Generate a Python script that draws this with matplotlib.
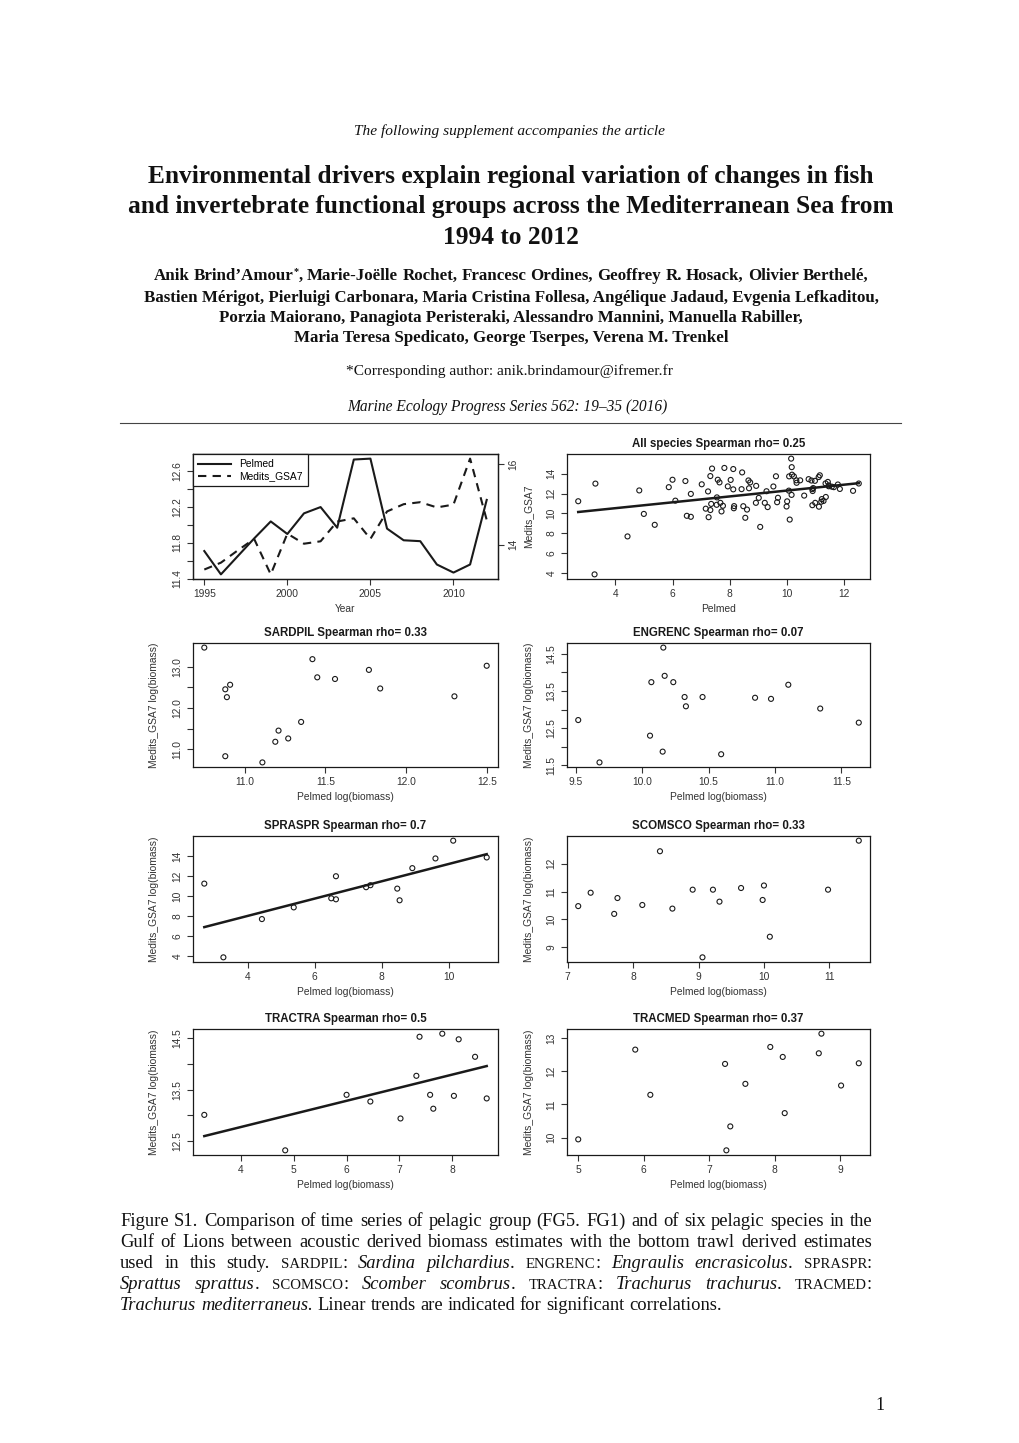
import numpy as np
import matplotlib
matplotlib.use("Agg")
import matplotlib.pyplot as plt
from matplotlib.transforms import IdentityTransform
from matplotlib.lines import Line2D

# ---- time series (FG5 / FG1 pelagic group) ----
years = [1995, 1996, 1997, 1998, 1999, 2000, 2001, 2002, 2003,
         2004, 2005, 2006, 2007, 2008, 2009, 2010, 2011, 2012]
pelmed = [11.71, 11.45, 11.65, 11.85, 12.04, 11.90, 12.13, 12.20, 11.97,
          12.73, 12.74, 11.96, 11.83, 11.82, 11.56, 11.47, 11.56, 12.28]
medits = [13.38, 13.55, 13.85, 14.14, 13.26, 14.27, 14.02, 14.08, 14.57,
          14.65, 14.14, 14.82, 15.00, 15.05, 14.92, 14.99, 16.13, 14.61]

# ---- species: Pelmed (x) vs Medits_GSA7 (y), log(biomass) ----
sard_x = [10.75, 10.88, 10.89, 10.91, 10.88, 11.11, 11.19, 11.21, 11.27,
          11.35, 11.42, 11.45, 11.56, 11.77, 11.84, 12.30, 12.50]
sard_y = [13.46, 12.45, 12.26, 12.56, 10.83, 10.68, 11.18, 11.45, 11.26,
          11.66, 13.18, 12.74, 12.70, 12.92, 12.47, 12.28, 13.02]

eng_x = [9.52, 9.68, 10.06, 10.07, 10.155, 10.16, 10.17, 10.235, 10.32,
         10.33, 10.455, 10.595, 10.85, 10.97, 11.10, 11.34, 11.63]
eng_y = [12.72, 11.58, 12.30, 13.74, 11.87, 14.67, 13.91, 13.74, 13.34,
         13.09, 13.34, 11.80, 13.32, 13.29, 13.67, 13.03, 12.65]

spr_x = [2.71, 3.28, 4.43, 5.38, 6.50, 6.64, 6.64, 7.54, 7.67, 8.54,
         8.47, 8.92, 9.61, 10.14, 11.14]
spr_y = [11.23, 3.85, 7.68, 8.85, 9.76, 9.66, 11.97, 10.87, 11.07, 9.56,
         10.73, 12.78, 13.75, 15.53, 13.85]

sco_x = [7.16, 7.35, 7.71, 7.76, 8.14, 8.41, 8.60, 8.91, 9.06, 9.22,
         9.32, 9.65, 9.98, 10.00, 10.09, 10.98, 11.45]
sco_y = [10.48, 10.96, 10.20, 10.77, 10.52, 12.45, 10.39, 11.07, 8.64, 11.07,
         10.64, 11.13, 10.70, 11.22, 9.38, 11.07, 12.83]

tra_x = [3.31, 4.84, 6.00, 6.45, 7.02, 7.32, 7.38, 7.58, 7.64, 7.81,
         8.03, 8.12, 8.43, 8.65]
tra_y = [13.01, 12.32, 13.40, 13.27, 12.94, 13.77, 14.53, 13.40, 13.13, 14.59,
         13.38, 14.48, 14.14, 13.33]

tm_x = [5.00, 5.87, 6.10, 7.24, 7.26, 7.32, 7.55, 7.93, 8.12, 8.15,
        8.67, 8.71, 9.01, 9.28]
tm_y = [9.95, 12.65, 11.29, 12.22, 9.62, 10.34, 11.62, 12.73, 12.43, 10.74,
        12.54, 13.13, 11.57, 12.24]

# all species panel = the six species together
all_x = np.concatenate([sard_x, eng_x, spr_x, sco_x, tra_x, tm_x])
all_y = np.concatenate([sard_y, eng_y, spr_y, sco_y, tra_y, tm_y])

W, H = 1020, 1443
plt.rcParams['font.family'] = 'Liberation Sans'
fig = plt.figure(figsize=(W / 100, H / 100), dpi=100)
fig.patch.set_facecolor('white')

INK = '#1a1a1a'
TXT = '#333333'
FS = 7.4


def box(x0, y0, x1, y1):
    return fig.add_axes([x0 / W, 1 - y1 / H, (x1 - x0) / W, (y1 - y0) / H])


def style(ax):
    for s in ax.spines.values():
        s.set_linewidth(0.9)
        s.set_color(INK)
    ax.tick_params(direction='out', length=4, width=0.8, color='#333',
                   labelsize=FS, labelcolor=TXT, pad=3.5)


def set_ticks(ax, xt, xl, yt, yl):
    x_lim, y_lim = ax.get_xlim(), ax.get_ylim()
    ax.set_xticks(xt)
    ax.set_xticklabels(xl)
    ax.set_yticks(yt)
    ax.set_yticklabels(yl, rotation=90, va='center')
    ax.set_xlim(x_lim)
    ax.set_ylim(y_lim)


def scatter_panel(ax, x, y, title, xt, xl, yt, yl, xlabel, ylabel, fit=False):
    style(ax)
    ax.scatter(x, y, s=13, facecolors='none', edgecolors=INK, linewidths=0.8, zorder=3)
    if fit:
        b, a = np.polyfit(x, y, 1)
        xs = np.array([min(x), max(x)])
        ax.plot(xs, a + b * xs, color=INK, lw=1.8)
    ax.margins(0.04)
    ax.autoscale_view()
    set_ticks(ax, xt, xl, yt, yl)
    ax.set_title(title, fontsize=8.3, fontweight='bold', pad=5, color=INK)
    ax.set_xlabel(xlabel, fontsize=FS, color=TXT)
    ax.set_ylabel(ylabel, fontsize=FS, color=TXT)
    ax.xaxis.set_label_coords(0.5, -0.2)
    ax.yaxis.set_label_coords(-0.11, 0.5)


LX = (193, 498)
RX = (567, 870)
ROWS = [(454, 579), (643, 767), (836, 962), (1029, 1155)]

# ---- time series panel ----
ax = box(LX[0], ROWS[0][0], LX[1], ROWS[0][1])
style(ax)
ax.plot(years, pelmed, color=INK, lw=1.5)
ax.margins(0.04)
ax.autoscale_view()
set_ticks(ax, [1995, 2000, 2005, 2010], ['1995', '2000', '2005', '2010'],
          [11.4, 11.6, 11.8, 12.0, 12.2, 12.4, 12.6],
          ['11.4', '', '11.8', '', '12.2', '', '12.6'])
ax.set_xlabel('Year', fontsize=FS, color=TXT)
ax.xaxis.set_label_coords(0.5, -0.2)
ax2 = ax.twinx()
ax2.plot(years, medits, color=INK, lw=1.5, ls=(0, (4, 3)))
ax2.margins(y=0.04)
ax2.autoscale_view()
yl2 = ax2.get_ylim()
ax2.set_yticks([14, 16])
ax2.set_yticklabels(['14', '16'], rotation=90, va='center')
ax2.set_ylim(yl2)
ax2.tick_params(direction='out', length=4, width=0.8, color='#333',
                labelsize=FS, labelcolor=TXT, pad=3.5)
for s in ax2.spines.values():
    s.set_linewidth(0.9)
    s.set_color(INK)
handles = [Line2D([], [], color=INK, lw=1.5),
           Line2D([], [], color=INK, lw=1.5, ls=(0, (4, 3)))]
leg = ax2.legend(handles, ['Pelmed', 'Medits_GSA7'], loc='upper left', fontsize=FS,
                 fancybox=False, edgecolor=INK, framealpha=1, borderaxespad=0,
                 handlelength=3.2, labelspacing=0.2, borderpad=0.5)
leg.get_frame().set_linewidth(0.9)

# ---- scatter panels ----
scatter_panel(box(RX[0], ROWS[0][0], RX[1], ROWS[0][1]), all_x, all_y,
              'All species Spearman rho= 0.25',
              [4, 6, 8, 10, 12], ['4', '6', '8', '10', '12'],
              [4, 6, 8, 10, 12, 14, 16], ['4', '6', '8', '10', '12', '14', '16'],
              'Pelmed', 'Medits_GSA7', fit=True)

scatter_panel(box(LX[0], ROWS[1][0], LX[1], ROWS[1][1]), sard_x, sard_y,
              'SARDPIL Spearman rho= 0.33',
              [11.0, 11.5, 12.0, 12.5], ['11.0', '11.5', '12.0', '12.5'],
              [11.0, 11.5, 12.0, 12.5, 13.0], ['11.0', '', '12.0', '', '13.0'],
              'Pelmed log(biomass)', 'Medits_GSA7 log(biomass)')

scatter_panel(box(RX[0], ROWS[1][0], RX[1], ROWS[1][1]), eng_x, eng_y,
              'ENGRENC Spearman rho= 0.07',
              [9.5, 10.0, 10.5, 11.0, 11.5], ['9.5', '10.0', '10.5', '11.0', '11.5'],
              [11.5, 12.0, 12.5, 13.0, 13.5, 14.0, 14.5],
              ['11.5', '', '12.5', '', '13.5', '', '14.5'],
              'Pelmed log(biomass)', 'Medits_GSA7 log(biomass)')

scatter_panel(box(LX[0], ROWS[2][0], LX[1], ROWS[2][1]), spr_x, spr_y,
              'SPRASPR Spearman rho= 0.7',
              [4, 6, 8, 10], ['4', '6', '8', '10'],
              [4, 6, 8, 10, 12, 14, 16], ['4', '6', '8', '10', '12', '14', '16'],
              'Pelmed log(biomass)', 'Medits_GSA7 log(biomass)', fit=True)

scatter_panel(box(RX[0], ROWS[2][0], RX[1], ROWS[2][1]), sco_x, sco_y,
              'SCOMSCO Spearman rho= 0.33',
              [7, 8, 9, 10, 11], ['7', '8', '9', '10', '11'],
              [9, 10, 11, 12, 13], ['9', '10', '11', '12', '13'],
              'Pelmed log(biomass)', 'Medits_GSA7 log(biomass)')

scatter_panel(box(LX[0], ROWS[3][0], LX[1], ROWS[3][1]), tra_x, tra_y,
              'TRACTRA Spearman rho= 0.5',
              [4, 5, 6, 7, 8], ['4', '5', '6', '7', '8'],
              [12.5, 13.0, 13.5, 14.0, 14.5], ['12.5', '', '13.5', '', '14.5'],
              'Pelmed log(biomass)', 'Medits_GSA7 log(biomass)', fit=True)

scatter_panel(box(RX[0], ROWS[3][0], RX[1], ROWS[3][1]), tm_x, tm_y,
              'TRACMED Spearman rho= 0.37',
              [5, 6, 7, 8, 9], ['5', '6', '7', '8', '9'],
              [10, 11, 12, 13], ['10', '11', '12', '13'],
              'Pelmed log(biomass)', 'Medits_GSA7 log(biomass)')

# ---- page text ----
renderer = fig.canvas.get_renderer()
SERIF = 'Liberation Serif'


def style_kw(st, size):
    if st == 'i':
        return dict(family=SERIF, style='italic', fontsize=size), 0
    if st == 'b':
        return dict(family=SERIF, weight='bold', fontsize=size), 0
    if st == 'bsup':
        return dict(family=SERIF, weight='bold', fontsize=size * 0.6), size * 1.389 * 0.38
    if st == 'sc':
        return dict(family=SERIF, fontsize=size * 0.8), 0
    return dict(family=SERIF, fontsize=size), 0


def to_words(segs):
    words = [[]]
    for txt, st in segs:
        parts = txt.split(' ')
        for i, p in enumerate(parts):
            if i > 0:
                words.append([])
            if p:
                words[-1].append((p, st))
    return [w for w in words if w]


def place_line(segs, ycen, size, x0=None, x1=None, center=None):
    words = to_words(segs)
    ybase = H - (ycen + 0.3 * size * 1.389)
    items = []
    for word in words:
        parts = []
        for txt, st in word:
            kw, dy = style_kw(st, size)
            t = fig.text(0, ybase + dy, txt, transform=IdentityTransform(),
                         va='baseline', ha='left', color='#111', **kw)
            parts.append((t, t.get_window_extent(renderer).width))
        items.append(parts)
    kw, _ = style_kw(words[0][0][1], size)
    a = fig.text(0, 0, 'a a', **kw)
    b = fig.text(0, 0, 'aa', **kw)
    space = a.get_window_extent(renderer).width - b.get_window_extent(renderer).width
    a.remove()
    b.remove()
    widths = [sum(w for _, w in parts) for parts in items]
    gap = space
    if x1 is not None and len(items) > 1:
        gap = max((x1 - x0 - sum(widths)) / (len(items) - 1), 0.7 * space)
    total = sum(widths) + gap * (len(items) - 1)
    x = center - total / 2 if center is not None else x0
    for parts, wd in zip(items, widths):
        xx = x
        for t, w in parts:
            t.set_x(xx)
            xx += w
        x += wd + gap


def centered(txt, ycen, size, st='r', xc=510):
    kw, _ = style_kw(st, size)
    fig.text(xc, H - (ycen + 0.3 * size * 1.389), txt, transform=IdentityTransform(),
             va='baseline', ha='center', color='#111', **kw)


centered("The following supplement accompanies the article", 130, 11.1, 'i')
TS = 18.3
centered("Environmental drivers explain regional variation of changes in fish", 175, TS, 'b', 511)
centered("and invertebrate functional groups across the Mediterranean Sea from", 205, TS, 'b', 511)
centered("1994 to 2012", 236, TS, 'b', 511)
AS = 12.2
place_line([("Anik Brind\u2019Amour", 'b'), ("*", 'bsup'), (", Marie-Jo\u00eblle Rochet, Francesc Ordines, Geoffrey R. Hosack, Olivier Berthel\u00e9,", 'b')], 275, AS, center=511)
centered("Bastien M\u00e9rigot, Pierluigi Carbonara, Maria Cristina Follesa, Ang\u00e9lique Jadaud, Evgenia Lefkaditou,", 297, AS, 'b', 511)
centered("Porzia Maiorano, Panagiota Peristeraki, Alessandro Mannini, Manuella Rabiller,", 317, AS, 'b', 511)
centered("Maria Teresa Spedicato, George Tserpes, Verena M. Trenkel", 337, AS, 'b', 511)
centered("*Corresponding author: anik.brindamour@ifremer.fr", 370, 11.1, 'r')
centered("Marine Ecology Progress Series 562: 19\u201335 (2016)", 406, 11.2, 'i', 507)
fig.add_artist(Line2D([120 / W, 901 / W], [1 - 423 / H, 1 - 423 / H], color='#444', lw=0.8))

cap1 = [("Figure S1. Comparison of time series of pelagic group (FG5. FG1) and of six pelagic species in the", 'r')]
cap2 = [("Gulf of Lions between acoustic derived biomass estimates with the bottom trawl derived estimates", 'r')]
cap3 = [("used in this study. ", 'r'), ("SARDPIL", 'sc'), (": ", 'r'), ("Sardina pilchardius", 'i'), (". ", 'r'),
        ("ENGRENC", 'sc'), (": ", 'r'), ("Engraulis encrasicolus", 'i'), (". ", 'r'), ("SPRASPR", 'sc'), (":", 'r')]
cap4 = [("Sprattus sprattus", 'i'), (". ", 'r'), ("SCOMSCO", 'sc'), (": ", 'r'), ("Scomber scombrus", 'i'), (". ", 'r'),
        ("TRACTRA", 'sc'), (": ", 'r'), ("Trachurus trachurus", 'i'), (". ", 'r'), ("TRACMED", 'sc'), (":", 'r')]
cap5 = [("Trachurus mediterraneus.", 'i'), (" Linear trends are indicated for significant correlations.", 'r')]
CS = 13.3
for i, line in enumerate([cap1, cap2, cap3, cap4]):
    place_line(line, 1220 + 21 * i, CS, x0=120, x1=872)
place_line(cap5, 1220 + 21 * 4, CS, x0=120)
centered("1", 1405, 13, 'r', 880)

fig.savefig('out.png', dpi=100, facecolor='white')
